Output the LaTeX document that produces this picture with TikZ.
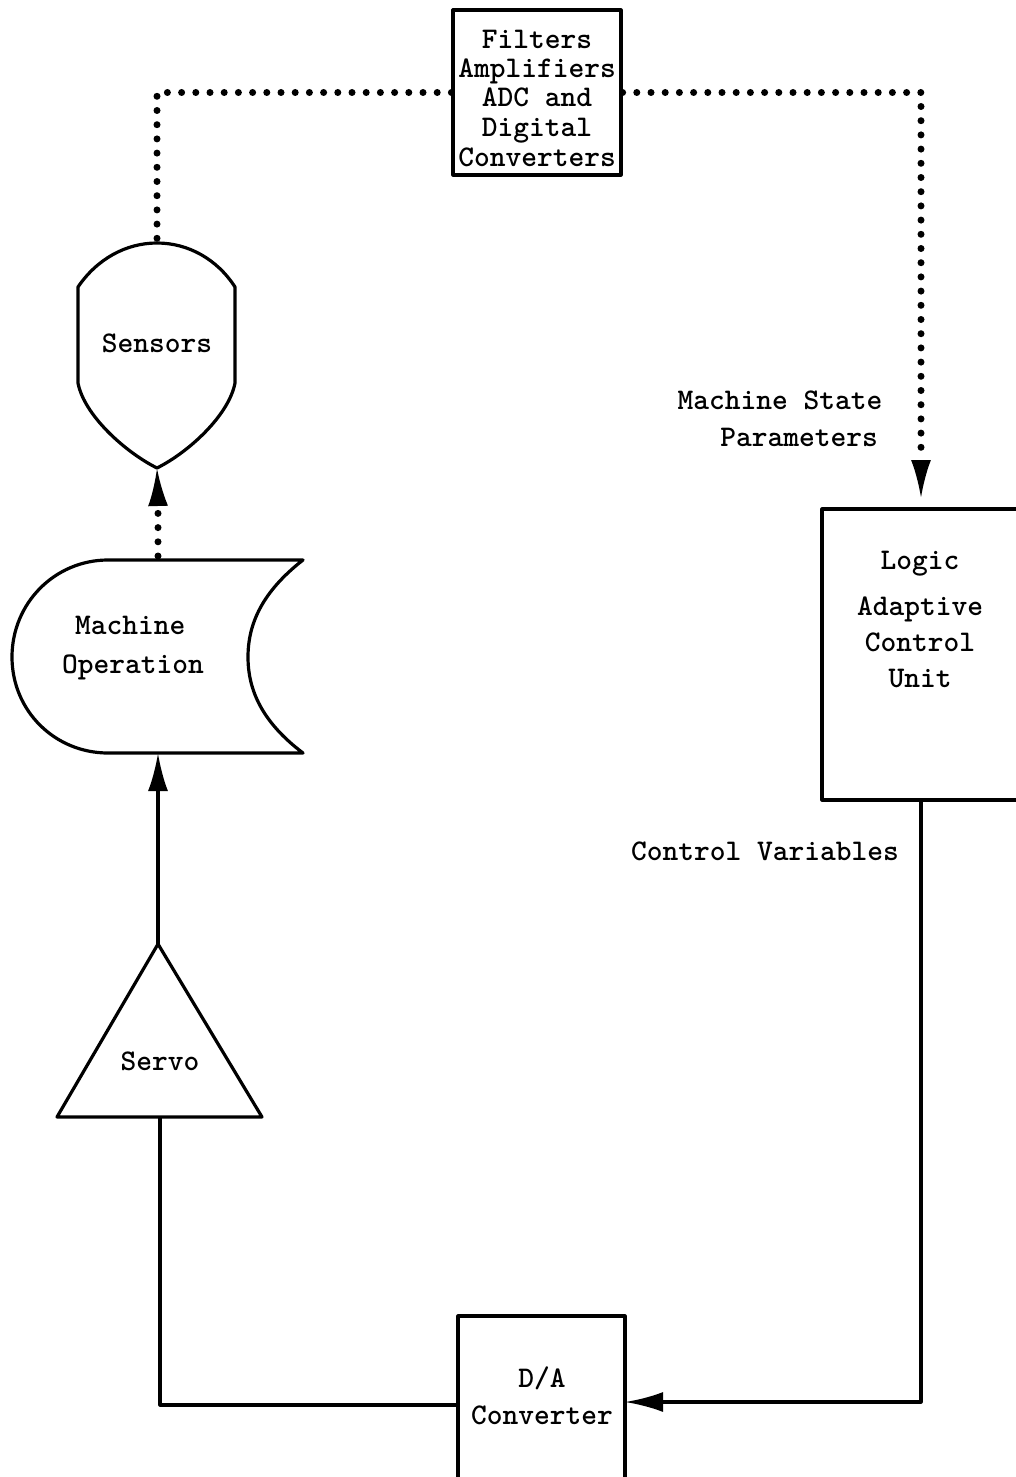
\documentclass[tikz,border=0pt]{standalone}
\usetikzlibrary{arrows.meta}
\begin{document}
\begin{tikzpicture}[x=1pt,y=-1pt,
  line width=3.2pt, line join=round,
  txt/.style={font=\fontsize{30}{#1}\selectfont\ttfamily\bfseries, inner sep=0pt, align=center},
  txt/.default=30,
  dotline/.style={line width=7pt, dash pattern=on 0pt off 14.2pt, line cap=round},
  tip/.style={-{Latex[length=38pt,width=20pt]}},
]
\useasboundingbox (0,0) rectangle (1016,1477);
\clip (0,0) rectangle (1016,1477);

% ---- signal conditioning block
\node[draw, minimum width=168pt, minimum height=165pt, inner sep=0pt] (filt) at (537,92.5) {};
\node[txt=29.5] (filttxt) at (537,98) {Filters\\Amplifiers\\ADC and\\Digital\\Converters};

% ---- sensors (balloon shape)
\coordinate (sensN) at (157,243);
\coordinate (sensS) at (157,468);
\draw (78,287) .. controls (97,259) and (126,243) .. (sensN)
      .. controls (188,243) and (217,259) .. (235,287)
      -- (235,383) .. controls (229,415) and (189,452) .. (sensS)
      .. controls (125,452) and (84,415) .. (78,383) -- cycle;
\node[txt] (sens) at (157,343) {Sensors};

% ---- machine operation (stored-data shape)
\coordinate (machN) at (158,560);
\coordinate (machS) at (158,753);
\draw (303,560) -- (108,560)
      .. controls (55,560) and (12,603) .. (12,657)
      .. controls (12,711) and (55,753) .. (108,753)
      -- (303,753)
      .. controls (262,722) and (248,690) .. (248,657)
      .. controls (248,624) and (262,592) .. cycle;
\node[txt=39, align=left] (mach) at (133,648) {\hspace{13pt}Machine\\Operation};

% ---- servo (triangle)
\coordinate (servoN) at (158,944);
\coordinate (servoS) at (160,1117);
\draw (servoN) -- (262,1117) -- (57,1117) -- cycle;
\node[txt] (servo) at (160,1061) {Servo};

% ---- D/A converter (runs off the lower edge)
\draw (458,1500) -- (458,1316) -- (625,1316) -- (625,1500);
\coordinate (daW) at (458,1405);
\coordinate (daE) at (625,1402);
\node[txt=37] (da) at (542,1396) {D/A\\Converter};

% ---- adaptive control unit (runs off the right edge)
\draw (1040,509) -- (822,509) -- (822,800) -- (1040,800);
\coordinate (logN) at (921,509);
\coordinate (logS) at (921,800);
\node[txt=36] (logic) at (920,564) {Logic};
\node[txt=36] (acu) at (920,642) {Adaptive\\Control\\Unit};

% ---- signal labels
\node[txt=37] (msp) at (780,419) {Machine State\\\hspace{38pt}Parameters};
\node[txt] (cv) at (765,851) {Control Variables};

% ---- dotted measurement paths
\draw[dotline] (filt.west) -- (filt.west -| sensN) -- ([yshift=-2pt]sensN);
\draw[dotline] (filt.east) -- (filt.east -| logN) -- ([yshift=50pt]logN);
\draw[tip] ([yshift=48pt]logN) -- ([yshift=11pt]logN);
\draw[dotline] ([yshift=4pt]machN) -- ([yshift=50pt]machN);
\draw[tip] ([yshift=56pt]machN) -- (sensS);

% ---- solid control paths
\draw[tip] (servoN) -- (machS);
\draw (daW) -- (daW -| servoS) -- (servoS);
\draw[tip] (logS) -- (logS |- daE) -- (daE);
\end{tikzpicture}
\end{document}
